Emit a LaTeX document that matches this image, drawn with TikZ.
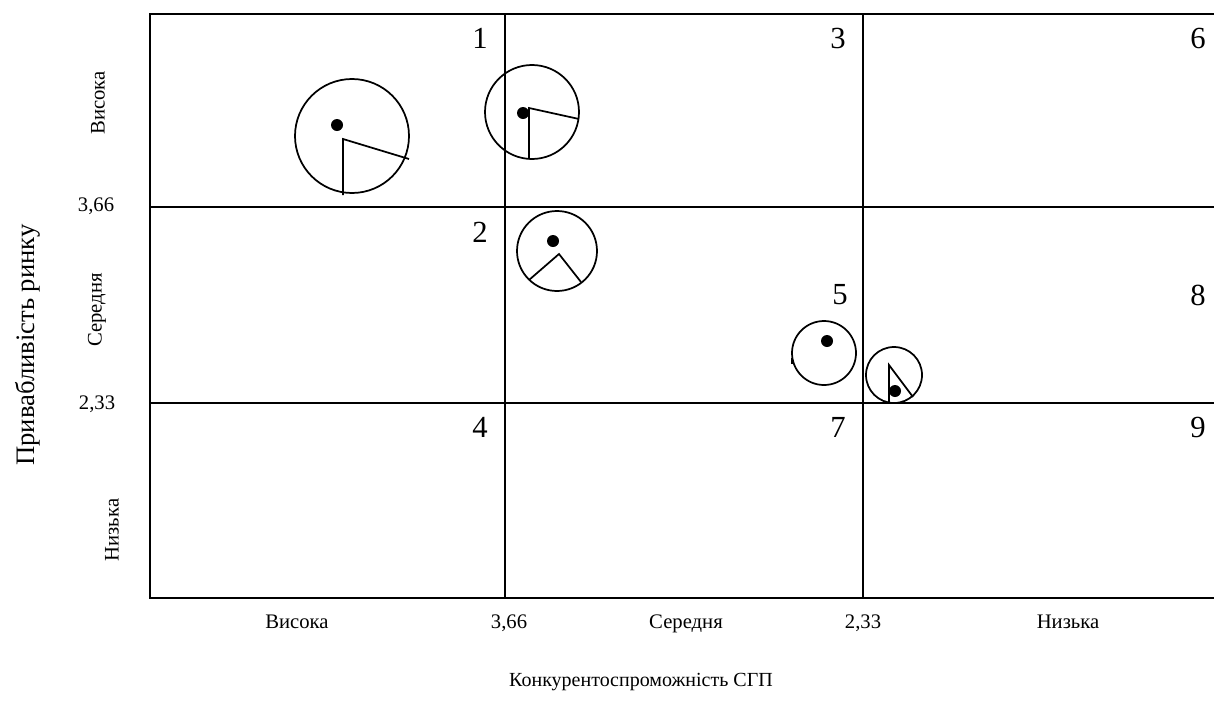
\documentclass[tikz,border=0pt]{standalone}
\usepackage{fontspec}
\setmainfont{Liberation Serif}
\begin{document}
\begin{tikzpicture}[x=0.75pt,y=-0.75pt,
  grid/.style={line width=1.5pt},
  bubble/.style={line width=1.3pt},
  dotmark/.style={fill=black},
  cellnum/.style={font=\fontsize{23}{25}\selectfont, inner sep=0pt},
  axlab/.style={font=\fontsize{15.5}{18}\selectfont, inner sep=0pt},
  botlab/.style={axlab, anchor=base},
  axtitle/.style={font=\fontsize{15}{18}\selectfont, inner sep=0pt}]
\useasboundingbox (0,0) rectangle (1214,718);
% grid
\coordinate (tl) at (150,14);
\coordinate (bl) at (150,598);
\coordinate (tr) at (1214,14);
\coordinate (br) at (1214,598);
\coordinate (v1t) at (505,14);
\coordinate (v1b) at (505,598);
\coordinate (v2t) at (863,14);
\coordinate (v2b) at (863,598);
\coordinate (h1l) at (150,207);
\coordinate (h1r) at (1214,207);
\coordinate (h2l) at (150,403);
\coordinate (h2r) at (1214,403);
\draw[grid] (tr) -- (tl) -- (bl) -- (br);
\draw[grid] (v1t) -- (v1b);
\draw[grid] (v2t) -- (v2b);
\draw[grid] (h1l) -- (h1r);
\draw[grid] (h2l) -- (h2r);
% cell numbers
\node[cellnum] (n1) at (480,38) {1};
\node[cellnum] (n3) at (838,38) {3};
\node[cellnum] (n6) at (1198,38) {6};
\node[cellnum] (n2) at (480,232) {2};
\node[cellnum] (n5) at (840,295) {5};
\node[cellnum] (n8) at (1198,295) {8};
\node[cellnum] (n4) at (480,427) {4};
\node[cellnum] (n7) at (838,427) {7};
\node[cellnum] (n9) at (1198,427) {9};
% bubble 1
\draw[bubble] (352,136) circle[radius=57];
\draw[bubble] (343,195) -- (343,139) -- (409,159);
\fill[dotmark] (337,125) circle[radius=6];
% bubble 2
\draw[bubble] (532,112) circle[radius=47];
\draw[bubble] (529,159) -- (529,108) -- (579,119);
\fill[dotmark] (523,113) circle[radius=6];
% bubble 3
\draw[bubble] (557,251) circle[radius=40];
\draw[bubble] (529,280) -- (559,254) -- (581,282);
\fill[dotmark] (553,241) circle[radius=6];
% bubble 4
\draw[bubble] (824,353) circle[radius=32];
\draw[bubble] (792,358) -- (792,364);
\fill[dotmark] (827,341) circle[radius=6];
% bubble 5
\draw[bubble] (894,375) circle[radius=28];
\draw[bubble] (889,402) -- (889,365) -- (913,397);
\fill[dotmark] (895,391) circle[radius=6];
% left labels
\node[axlab, rotate=90] (lv) at (98,103) {Висока};
\node[axlab] (l366) at (96,206) {3,66};
\node[axlab, rotate=90] (ls) at (97,310) {Середня};
\node[axlab] (l233) at (97,404) {2,33};
\node[axlab, rotate=90] (ln) at (112,530) {Низька};
\node[axtitle, font=\fontsize{20}{22}\selectfont, rotate=90] (ly) at (28,345) {Привабливість ринку};
% bottom labels
\node[botlab] (bv) at (297,628) {Висока};
\node[botlab] (b366) at (509,628) {3,66};
\node[botlab] (bs) at (686,628) {Середня};
\node[botlab] (b233) at (863,628) {2,33};
\node[botlab] (bn) at (1068,628) {Низька};
\node[axtitle] (bx) at (641,682) {Конкурентоспроможність СГП};
\end{tikzpicture}
\end{document}
